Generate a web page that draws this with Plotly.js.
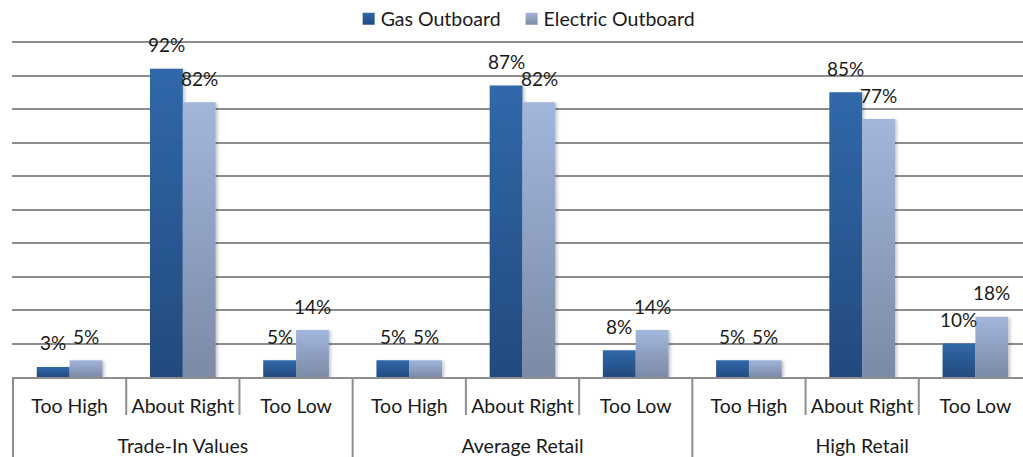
<!DOCTYPE html>
<html>
<head>
<meta charset="utf-8">
<script src="https://cdn.plot.ly/plotly-3.0.1.min.js"></script>
<style>
  html, body { margin: 0; padding: 0; background: #fff; overflow: hidden; }
  #chart { width: 1045px; height: 457px; }
</style>
</head>
<body>
<div id="chart"></div>
<script>
// Survey groups and answer options
const groups = ["Trade-In Values", "Average Retail", "High Retail"];
const answers = ["Too High", "About Right", "Too Low"];

// Share of respondents (%) per group/answer, in the order above
const gasOutboard = [3, 92, 5, 5, 87, 8, 5, 85, 10];
const electricOutboard = [5, 82, 14, 5, 82, 14, 5, 77, 18];

const seriesNames = ["Gas Outboard", "Electric Outboard"];

// Two-level category axis: group on the outer row, answer on the inner row
const outer = [], inner = [];
groups.forEach(g => answers.forEach(a => { outer.push(g); inner.push(a); }));
const xCats = [outer, inner];

const FONT = "Lato, 'DejaVu Sans', sans-serif";
const GRID = "#8d8d8d";
const TEXT = "#1a1a1a";

const traces = [gasOutboard, electricOutboard].map((vals, k) => ({
  type: "bar",
  name: seriesNames[k],
  x: xCats,
  y: vals,
  marker: { color: k === 0 ? "#2b5c99" : "#93a5c8", line: { width: 0 } },
  hoverinfo: "skip"
}));

// Value labels floating above each bar
const annotations = [];
[gasOutboard, electricOutboard].forEach((vals, k) => {
  vals.forEach((v, i) => {
    annotations.push({
      xref: "x", yref: "y", x: i, y: v,
      text: v + "%", showarrow: false,
      xshift: k === 0 ? -16.5 : 16.5, yshift: 24,
      yanchor: "middle", xanchor: "center",
      font: { family: FONT, size: 19, color: TEXT }
    });
  });
});

// Separators below the axis: short ones between answers, long ones around groups
const shapes = [];
for (let i = 0; i <= inner.length; i++) {
  const groupEdge = i % answers.length === 0;
  shapes.push({
    type: "line", xref: "x", yref: "paper",
    x0: i - 0.5, x1: i - 0.5, y0: 0, y1: groupEdge ? -82 / 337 : -38 / 337,
    line: { color: GRID, width: 2 }
  });
}

const layout = {
  width: 1045, height: 457,
  margin: { l: 12, r: 12, t: 40, b: 80 },
  paper_bgcolor: "#fff", plot_bgcolor: "#fff",
  font: { family: FONT, size: 19.5, color: TEXT },
  barmode: "group", bargap: 0.42, bargroupgap: 0,
  showlegend: true,
  legend: {
    orientation: "h", x: 0.507, xanchor: "center",
    yref: "container", y: 1 - 19 / 457, yanchor: "middle",
    font: { family: FONT, size: 19.5, color: TEXT },
    bgcolor: "rgba(0,0,0,0)"
  },
  xaxis: {
    type: "multicategory",
    showline: true, linecolor: GRID, linewidth: 2,
    showgrid: false, ticks: "", showdividers: false,
    tickfont: { family: FONT, size: 19.5, color: TEXT },
    fixedrange: true
  },
  yaxis: {
    range: [0, 100.6], dtick: 10, showticklabels: false,
    showgrid: true, gridcolor: GRID, gridwidth: 2,
    zeroline: false, showline: false, fixedrange: true
  },
  annotations: annotations,
  shapes: shapes
};

Plotly.newPlot("chart", traces, layout, { staticPlot: true, displayModeBar: false }).then(gd => {
  const svg = gd.querySelector(".main-svg");
  const ns = "http://www.w3.org/2000/svg";
  let defs = svg.querySelector("defs");
  if (!defs) { defs = document.createElementNS(ns, "defs"); svg.insertBefore(defs, svg.firstChild); }

  // Vertical light-to-dark shading on bars and legend swatches
  const stops = [["#3068aa", "#234a7e"], ["#a2b6dc", "#7b8aa6"]];
  stops.forEach((pair, k) => {
    const g = document.createElementNS(ns, "linearGradient");
    g.setAttribute("id", "barShade" + k);
    g.setAttribute("x1", "0"); g.setAttribute("y1", "0");
    g.setAttribute("x2", "0"); g.setAttribute("y2", "1");
    pair.forEach((c, j) => {
      const s = document.createElementNS(ns, "stop");
      s.setAttribute("offset", j === 0 ? "0" : "1");
      s.setAttribute("stop-color", c);
      g.appendChild(s);
    });
    defs.appendChild(g);
  });
  const f = document.createElementNS(ns, "filter");
  f.setAttribute("id", "barShadow");
  f.setAttribute("x", "-20%"); f.setAttribute("y", "-5%");
  f.setAttribute("width", "150%"); f.setAttribute("height", "115%");
  const ds = document.createElementNS(ns, "feDropShadow");
  ds.setAttribute("dx", "2"); ds.setAttribute("dy", "1");
  ds.setAttribute("stdDeviation", "1.6");
  ds.setAttribute("flood-color", "#000"); ds.setAttribute("flood-opacity", "0.22");
  f.appendChild(ds);
  defs.appendChild(f);

  gd.querySelectorAll(".barlayer .trace").forEach((tr, k) => {
    tr.querySelectorAll("path").forEach(p => {
      p.style.fill = "url(#barShade" + k + ")";
      p.setAttribute("filter", "url(#barShadow)");
    });
  });

  // Legend: tighter swatch-to-text spacing and item spacing
  gd.querySelectorAll(".legend .traces").forEach((tr, k) => {
    tr.querySelectorAll(".legendpoints path").forEach(p => {
      p.style.fill = "url(#barShade" + k + ")";
      p.style.stroke = "none";
    });
    const txt = tr.querySelector(".legendtext");
    if (txt) txt.setAttribute("x", "32");
    const m = /translate\(\s*([-\d.]+)[ ,]+([-\d.]+)\s*\)/.exec(tr.getAttribute("transform") || "");
    if (m) tr.setAttribute("transform", "translate(" + (+m[1] - 2 * k) + "," + m[2] + ")");
  });

  // Set the two label rows at fixed distances below the axis line
  const ya = gd._fullLayout.yaxis;
  const axisY = ya._offset + ya._length;
  const place = (sel, dist) => {
    gd.querySelectorAll(sel).forEach(t => {
      const bb = t.getBBox();
      const ctm = t.getCTM();
      const cy = bb.y + bb.height / 2 + (ctm ? ctm.f : 0) - svg.getCTM().f;
      const dy = axisY + dist - cy;
      const g = document.createElementNS(ns, "g");
      g.setAttribute("transform", "translate(0," + dy + ")");
      t.parentNode.insertBefore(g, t);
      g.appendChild(t);
    });
  };
  place(".xtick text", 29);
  place(".xtick2 text", 69);
});
</script>
</body>
</html>
